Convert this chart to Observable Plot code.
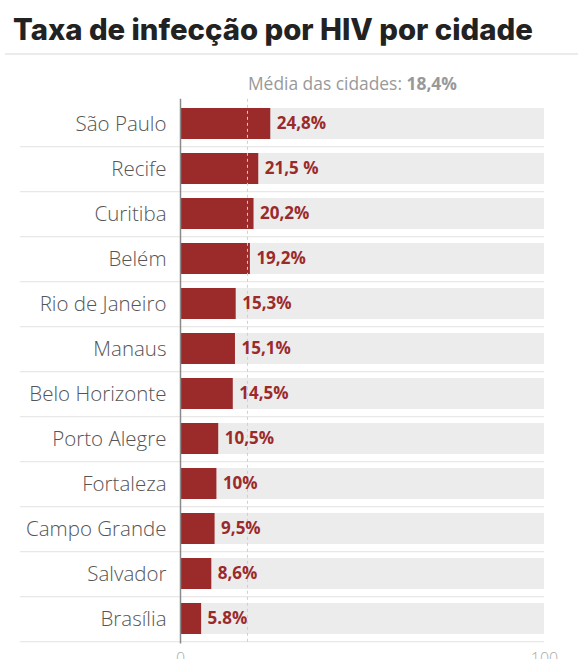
<!DOCTYPE html>
<html>
<head>
<meta charset="utf-8">
<script src="https://cdn.jsdelivr.net/npm/d3@7"></script>
<script src="https://cdn.jsdelivr.net/npm/@observablehq/plot@0.6"></script>
<style>
  html, body { margin: 0; padding: 0; background: #fff; }
  #wrap { width: 578px; position: relative; }
  #header { position: relative; height: 53px; margin-left: 5px; border-bottom: 2px solid #ebebeb; }
  #header h1 { position: absolute; left: 8px; top: 15px; margin: 0; font-family: Inter, sans-serif; font-weight: 800; font-size: 29.3px; line-height: 30px; color: #222; white-space: nowrap; letter-spacing: 0px; }
  svg { display: block; }
</style>
</head>
<body>
<div id="wrap">
  <div id="header"><h1>Taxa de infecção por HIV por cidade</h1></div>
  <div id="chart"></div>
</div>
<script>
const cities = ["São Paulo", "Recife", "Curitiba", "Belém", "Rio de Janeiro", "Manaus", "Belo Horizonte", "Porto Alegre", "Fortaleza", "Campo Grande", "Salvador", "Brasília"];
const rates = [24.8, 21.5, 20.2, 19.2, 15.3, 15.1, 14.5, 10.5, 10, 9.5, 8.6, 5.8];
const rateLabels = ["24,8%", "21,5 %", "20,2%", "19,2%", "15,3%", "15,1%", "14,5%", "10,5%", "10%", "9,5%", "8,6%", "5.8%"];
const meanRate = 18.4;
const meanLabel = "Média das cidades: ";
const meanValueLabel = "18,4%";
const xTicks = [0, 100];
const xMax = 100;

const data = cities.map((c, i) => ({city: c, rate: rates[i], label: rateLabels[i]}));

const H = 604, mTop = 43.8, mBottom = 15.6;
const step = (H - mTop - mBottom) / cities.length;
const red = "#9b2a2b";

const chart = Plot.plot({
  width: 578,
  height: H,
  marginLeft: 180,
  marginRight: 34,
  marginTop: mTop,
  marginBottom: mBottom,
  style: {background: "transparent", fontFamily: "Open Sans, sans-serif"},
  x: {domain: [0, xMax], axis: null},
  y: {domain: cities, paddingInner: 0.31, paddingOuter: 0.155, axis: null},
  marks: [
    Plot.ruleY(cities, {y: d => d, dy: step / 2, x1: -44, x2: xMax, stroke: "#e8e8e8", strokeWidth: 1.2}),
    Plot.barX(cities, {y: d => d, x1: 0, x2: xMax, fill: "#ececec"}),
    Plot.barX(data, {y: "city", x1: 0, x2: "rate", fill: red}),
    Plot.ruleX([meanRate], {stroke: "#cfcfcf", strokeDasharray: "3,3", strokeWidth: 1}),
    Plot.ruleX([0], {stroke: "#8a8a8a", strokeWidth: 1.5}),
    Plot.text(data, {y: "city", x: "rate", text: "label", dx: 6, textAnchor: "start", fill: red, fontWeight: 700, fontSize: 17}),
    Plot.axisY({tickSize: 0, tickPadding: 14, fontSize: 20.5, fontWeight: 300, color: "#555", label: null}),
    Plot.axisX(xTicks, {tickSize: 0, tickPadding: 9, fontSize: 16, fontWeight: 300, color: "#aaa", label: null})
  ]
});

document.getElementById("chart").appendChild(chart);

const xs = chart.scale("x");
const svg = d3.select(chart);
const t = svg.append("text")
  .attr("x", xs.apply(meanRate) + 1)
  .attr("y", 34.5)
  .attr("text-anchor", "start")
  .attr("font-family", "Open Sans, sans-serif")
  .attr("font-size", 17.4)
  .attr("fill", "#999");
t.append("tspan").text(meanLabel);
t.append("tspan").attr("font-weight", 700).text(meanValueLabel);
</script>
</body>
</html>
